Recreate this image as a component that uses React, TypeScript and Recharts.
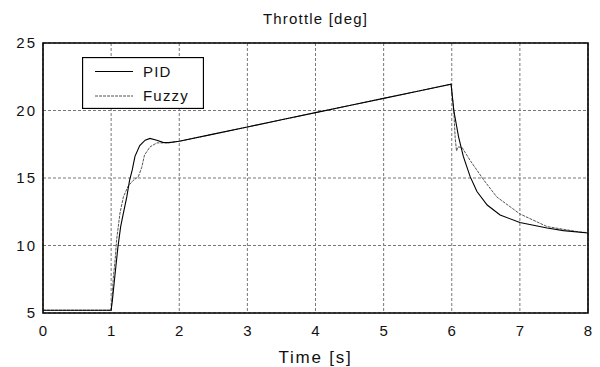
import React from "react";
import {
  LineChart,
  Line,
  XAxis,
  YAxis,
  CartesianGrid,
  ReferenceArea,
  Legend,
  Label,
} from "recharts";

const pidTime = [
  0, 1.0, 1.02, 1.05, 1.1, 1.14, 1.18, 1.23, 1.27, 1.31, 1.35, 1.42, 1.5, 1.57,
  1.67, 1.76, 1.85, 2.0, 2.5, 3.0, 3.5, 4.0, 4.5, 5.0, 5.5, 5.99, 6.03, 6.1,
  6.17, 6.27, 6.37, 6.52, 6.71, 7.0, 7.4, 7.64, 8.0,
];
const pidValue = [
  5.2, 5.2, 6.0, 7.5, 9.9, 11.4, 12.4, 13.6, 14.8, 15.6, 16.6, 17.4, 17.8, 17.93,
  17.8, 17.64, 17.62, 17.72, 18.25, 18.78, 19.31, 19.84, 20.37, 20.9, 21.43,
  21.95, 20.0, 18.05, 16.6, 15.1, 14.0, 13.0, 12.26, 11.7, 11.3, 11.1, 10.93,
];

const fuzzyTime = [
  0, 1.0, 1.02, 1.03, 1.06, 1.08, 1.13, 1.18, 1.25, 1.32, 1.4, 1.45, 1.49, 1.57,
  1.67, 1.82, 2.0, 2.5, 3.0, 3.5, 4.0, 4.5, 5.0, 5.5, 5.99, 6.03, 6.05, 6.07,
  6.09, 6.15, 6.27, 6.47, 6.66, 7.0, 7.4, 7.88, 8.0,
];
const fuzzyValue = [
  5.2, 5.2, 6.5, 7.5, 9.0, 10.4, 12.4, 13.6, 14.4, 14.8, 15.1, 15.8, 16.7, 17.3,
  17.6, 17.6, 17.72, 18.25, 18.78, 19.31, 19.84, 20.37, 20.9, 21.43, 21.95,
  20.0, 18.0, 17.0, 17.3, 17.27, 16.3, 14.85, 13.6, 12.34, 11.4, 11.0, 10.95,
];

const xTicks = [0, 1, 2, 3, 4, 5, 6, 7, 8];
const yTicks = [5, 10, 15, 20, 25];

const pidData = pidTime.map((t, i) => ({ t, v: pidValue[i] }));
const fuzzyData = fuzzyTime.map((t, i) => ({ t, v: fuzzyValue[i] }));

const FONT = "'Liberation Sans', Arial, Helvetica, sans-serif";

const LegendBox = () => (
  <svg width={122} height={52} style={{ display: "block" }}>
    <rect x={0.5} y={0.5} width={121} height={51} fill="#fff" stroke="#000" strokeWidth={1.3} />
    <line x1={13} x2={51} y1={14.5} y2={14.5} stroke="#000" strokeWidth={1.2} />
    <text x={61} y={19.5} fontSize={15} fontFamily={FONT} letterSpacing={1.2} fill="#111">
      PID
    </text>
    <line x1={13} x2={51} y1={39} y2={39} stroke="#555" strokeWidth={1} strokeDasharray="3 1" />
    <text x={61} y={44} fontSize={15} fontFamily={FONT} letterSpacing={1.2} fill="#111">
      Fuzzy
    </text>
  </svg>
);

export default function App() {
  return (
    <div style={{ position: "absolute", left: 0, top: 0, width: 600, height: 367, background: "#fff" }}>
      <div
        style={{
          position: "absolute",
          left: 43,
          width: 545,
          top: 10,
          textAlign: "center",
          fontFamily: FONT,
          fontSize: 15,
          letterSpacing: 1.2,
          color: "#111",
        }}
      >
        Throttle [deg]
      </div>
      <LineChart
        width={600}
        height={367}
        margin={{ top: 43, right: 12, bottom: 0, left: 0 }}
        style={{ fontFamily: FONT }}
      >
        <CartesianGrid stroke="#777" strokeDasharray="3 2" ticks={undefined} />
        <XAxis
          dataKey="t"
          type="number"
          domain={[0, 8]}
          ticks={xTicks}
          allowDuplicatedCategory={false}
          height={54}
          tickLine={false}
          tickSize={0}
          tickMargin={12}
          axisLine={false}
          tick={{ fill: "#111", fontSize: 15, fontFamily: FONT }}
        >
          <Label
            value="Time [s]"
            position="insideBottom"
            offset={4}
            style={{ fill: "#111", fontSize: 17, fontFamily: FONT, letterSpacing: 1.8 }}
          />
        </XAxis>
        <YAxis
          type="number"
          domain={[5, 25]}
          ticks={yTicks}
          width={43}
          tickLine={false}
          tickSize={0}
          tickMargin={6}
          axisLine={false}
          tick={{ fill: "#111", fontSize: 15, fontFamily: FONT, letterSpacing: 2 }}
        />
        <ReferenceArea x1={0} x2={8} y1={5} y2={25} fill="none" stroke="#000" strokeWidth={1.6} />
        <Line
          data={fuzzyData}
          dataKey="v"
          type="linear"
          stroke="#555"
          strokeWidth={1}
          strokeDasharray="3 1"
          dot={false}
          isAnimationActive={false}
        />
        <Line
          data={pidData}
          dataKey="v"
          type="linear"
          stroke="#000"
          strokeWidth={1.1}
          dot={false}
          isAnimationActive={false}
        />
        <Legend
          layout="vertical"
          align="center"
          verticalAlign="middle"
          wrapperStyle={{ left: 82, top: 57, width: 122, height: 52 }}
          content={() => <LegendBox />}
        />
      </LineChart>
    </div>
  );
}
